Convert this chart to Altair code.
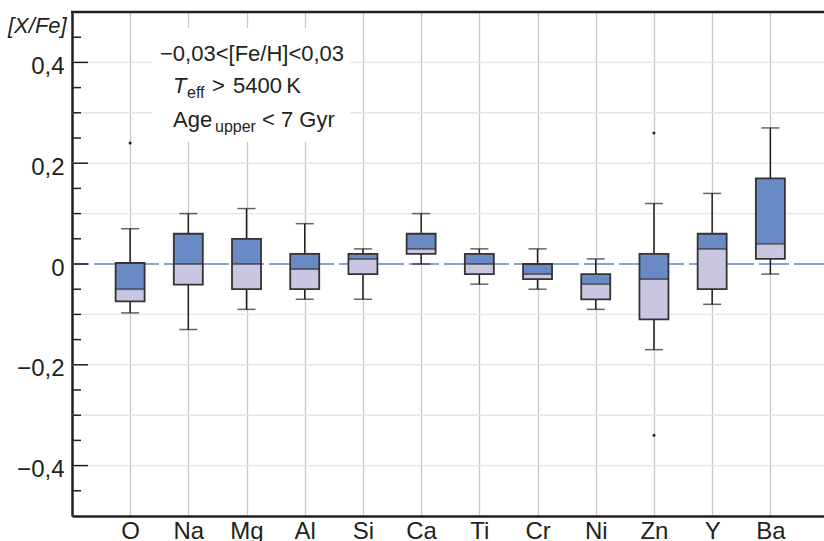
import altair as alt
import pandas as pd

# ---- data ----
elements = ["O", "Na", "Mg", "Al", "Si", "Ca", "Ti", "Cr", "Ni", "Zn", "Y", "Ba"]
whisker_low = [-0.097, -0.13, -0.09, -0.07, -0.07, 0.0, -0.04, -0.05, -0.09, -0.17, -0.08, -0.02]
q1 = [-0.074, -0.041, -0.05, -0.05, -0.02, 0.02, -0.02, -0.03, -0.07, -0.11, -0.05, 0.01]
median = [-0.05, 0.0, 0.0, -0.01, 0.01, 0.03, 0.0, -0.02, -0.04, -0.03, 0.03, 0.04]
q3 = [0.002, 0.06, 0.05, 0.02, 0.02, 0.06, 0.02, 0.0, -0.02, 0.02, 0.06, 0.17]
whisker_high = [0.07, 0.10, 0.11, 0.08, 0.03, 0.10, 0.03, 0.03, 0.01, 0.12, 0.14, 0.27]

outlier_el = ["O", "Zn", "Zn"]
outlier_val = [0.24, 0.26, -0.34]

y_label_values = [-0.4, -0.2, 0.0, 0.2, 0.4]
y_minor_ticks = [-0.45, -0.35, -0.3, -0.25, -0.15, -0.1, -0.05, 0.05, 0.1, 0.15, 0.25, 0.3, 0.35, 0.45]
y_grid = [-0.4, -0.3, -0.2, -0.1, 0.1, 0.2, 0.3, 0.4]

legend_line1 = "\u22120,03<[Fe/H]<0,03"
y_title = "[X/Fe]"

FONT = "Liberation Sans Narrow, Arial Narrow, Liberation Sans, sans-serif"
DARK = "#231f20"
BLUE = "#6a8ac6"
LAV = "#c9c6e1"

box_df = pd.DataFrame({
    "el": elements, "lo": whisker_low, "q1": q1, "med": median, "q3": q3, "hi": whisker_high
})
out_df = pd.DataFrame({"el": outlier_el, "v": outlier_val})
one = pd.DataFrame({"a": [0]})

yscale = alt.Scale(domain=[-0.5, 0.5], nice=False, zero=False)
xscale = alt.Scale(type="point", padding=0.96, align=0.52)

y_axis = alt.Axis(
    values=y_label_values,
    labelExpr="datum.value == 0 ? '0' : replace(replace(format(datum.value, '.1f'), '.', ','), '-', '\u2212')",
    grid=False, ticks=False, domainColor=DARK, domainWidth=2.5,
    labelFont=FONT, labelFontSize=24, labelColor=DARK, labelPadding=8, labelOffset=4,
    title=None,
)
x_axis = alt.Axis(
    grid=True, gridColor="#c8c8c8", gridWidth=1.3, ticks=False,
    domainColor=DARK, domainWidth=2.5, labelFont=FONT, labelFontSize=24,
    labelColor=DARK, labelPadding=3, labelAngle=0, title=None,
)

def X(field="el"):
    return alt.X(f"{field}:N", sort=elements, scale=xscale, axis=x_axis)

def Y(field):
    return alt.Y(f"{field}:Q", scale=yscale, axis=y_axis)

grid = alt.Chart(pd.DataFrame({"g": y_grid})).mark_rule(color="#e6e6e6", strokeWidth=1.4).encode(y=Y("g"))

legend_box = alt.Chart(one).mark_rect(color="white").encode(
    x=alt.value(80), x2=alt.value(278), y=alt.value(16), y2=alt.value(130)
)

zero_line = alt.Chart(pd.DataFrame({"z": [0.0]})).mark_rule(
    color="#86a3d8", strokeWidth=2, strokeDash=[30, 5]
).encode(y=Y("z"))

base = alt.Chart(box_df)
whisk_hi = base.mark_rule(color=DARK, strokeWidth=1.5).encode(x=X(), y=Y("q3"), y2="hi")
whisk_lo = base.mark_rule(color=DARK, strokeWidth=1.5).encode(x=X(), y=Y("lo"), y2="q1")
cap_hi = base.mark_tick(color=DARK, size=18, thickness=1.5, orient="horizontal").encode(x=X(), y=Y("hi"))
cap_lo = base.mark_tick(color=DARK, size=18, thickness=1.5, orient="horizontal").encode(x=X(), y=Y("lo"))
upper = base.mark_bar(color=BLUE, size=29).encode(x=X(), y=Y("med"), y2="q3")
lower = base.mark_bar(color=LAV, size=29).encode(x=X(), y=Y("q1"), y2="med")
outline = base.mark_bar(fill="transparent", stroke="#333333", strokeWidth=1.8, size=29).encode(
    x=X(), y=Y("q1"), y2="q3")
med_line = base.mark_tick(color="#333333", size=29, thickness=1.8, orient="horizontal").encode(
    x=X(), y=Y("med"))

outliers = alt.Chart(out_df).mark_circle(color=DARK, size=9, opacity=1).encode(x=X(), y=Y("v"))

major_ticks = alt.Chart(pd.DataFrame({"t": y_label_values})).mark_rule(
    color=DARK, strokeWidth=1.5).encode(y=Y("t"), x=alt.value(0), x2=alt.value(16))
minor_ticks = alt.Chart(pd.DataFrame({"t": y_minor_ticks})).mark_rule(
    color=DARK, strokeWidth=1.5).encode(y=Y("t"), x=alt.value(0), x2=alt.value(9))

top_border = alt.Chart(one).mark_rule(color=DARK, strokeWidth=2.5).encode(
    x=alt.value(-1), x2=alt.value(760), y=alt.value(0))

def txt(s, x, y, size=22, style="normal", align="left"):
    return alt.Chart(one).mark_text(
        text=s, font=FONT, fontSize=size, fontStyle=style, color=DARK,
        align=align, baseline="alphabetic"
    ).encode(x=alt.value(x), y=alt.value(y))

texts = [
    txt(y_title, -64, 21, size=22, style="italic"),
    txt(legend_line1, 88, 49),
    txt("T", 101, 81, style="italic"),
    txt("eff", 115, 86, size=16),
    txt(">", 140, 81),
    txt("5400\u2009K", 161, 81),
    txt("Age", 101, 115),
    txt("upper", 143, 120, size=16),
    txt("< 7 Gyr", 190, 115),
]

chart = alt.layer(
    grid, legend_box, zero_line, whisk_hi, whisk_lo, cap_hi, cap_lo,
    upper, lower, outline, med_line, outliers, major_ticks, minor_ticks,
    top_border, *texts
).properties(
    width=752, height=504,
    autosize=alt.AutoSizeParams(type="none"),
    padding={"left": 72, "top": 12, "right": 0, "bottom": 25},
    background="white",
).configure_view(stroke="transparent")

chart.save("out.html", embed_options={"renderer": "svg", "actions": False})
